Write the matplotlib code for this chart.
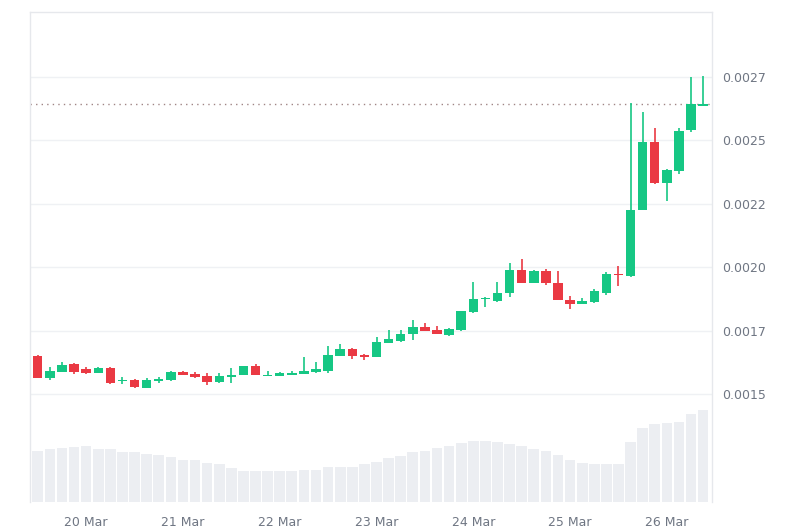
"""
Velas de 3 horas con volumen — 19 Mar a 26 Mar
Salida: out.png (799x532)
"""

import matplotlib
matplotlib.use("Agg")
import matplotlib.pyplot as plt
import numpy as np

# ─────────────────────────────────────────────────────────────────────────────
# Datos (velas de 3h desde 19 Mar 12:00)
# ─────────────────────────────────────────────────────────────────────────────

opens = [0.001650, 0.001564, 0.001588, 0.001618, 0.001599, 0.001583, 0.001603, 0.001551,
         0.001557, 0.001524, 0.001551, 0.001555, 0.001587, 0.001578, 0.001571, 0.001549,
         0.001568, 0.001574, 0.001610, 0.001571, 0.001572, 0.001576, 0.001578, 0.001587,
         0.001592, 0.001650, 0.001676, 0.001654, 0.001645, 0.001702, 0.001710, 0.001737,
         0.001765, 0.001754, 0.001733, 0.001752, 0.001823, 0.001873, 0.001868, 0.001897,
         0.001989, 0.001939, 0.001986, 0.001937, 0.001871, 0.001855, 0.001864, 0.001897,
         0.001973, 0.001965, 0.002226, 0.002494, 0.002331, 0.002379, 0.002540, 0.002637]
highs = [0.001652, 0.001608, 0.001626, 0.001622, 0.001606, 0.001605, 0.001605, 0.001568,
         0.001559, 0.001563, 0.001568, 0.001589, 0.001592, 0.001586, 0.001582, 0.001583,
         0.001601, 0.001612, 0.001618, 0.001591, 0.001585, 0.001592, 0.001647, 0.001627,
         0.001690, 0.001696, 0.001683, 0.001656, 0.001726, 0.001752, 0.001752, 0.001792,
         0.001779, 0.001768, 0.001760, 0.001829, 0.001943, 0.001884, 0.001940, 0.002015,
         0.002031, 0.001989, 0.001992, 0.001985, 0.001886, 0.001880, 0.001913, 0.001982,
         0.002005, 0.002649, 0.002613, 0.002550, 0.002387, 0.002548, 0.002749, 0.002755]
lows = [0.001562, 0.001555, 0.001587, 0.001580, 0.001579, 0.001581, 0.001541, 0.001538,
        0.001524, 0.001522, 0.001542, 0.001553, 0.001573, 0.001563, 0.001535, 0.001542,
        0.001542, 0.001573, 0.001573, 0.001570, 0.001571, 0.001575, 0.001577, 0.001582,
        0.001582, 0.001648, 0.001638, 0.001633, 0.001644, 0.001701, 0.001706, 0.001713,
        0.001748, 0.001735, 0.001729, 0.001750, 0.001821, 0.001844, 0.001864, 0.001881,
        0.001938, 0.001936, 0.001931, 0.001869, 0.001834, 0.001853, 0.001860, 0.001890,
        0.001926, 0.001963, 0.002224, 0.002330, 0.002262, 0.002367, 0.002535, 0.002637]
closes = [0.001563, 0.001591, 0.001614, 0.001586, 0.001583, 0.001603, 0.001542, 0.001555,
          0.001526, 0.001555, 0.001559, 0.001588, 0.001574, 0.001568, 0.001549, 0.001571,
          0.001575, 0.001610, 0.001574, 0.001576, 0.001582, 0.001583, 0.001592, 0.001597,
          0.001654, 0.001676, 0.001651, 0.001645, 0.001705, 0.001717, 0.001737, 0.001765,
          0.001750, 0.001737, 0.001758, 0.001827, 0.001873, 0.001879, 0.001899, 0.001989,
          0.001939, 0.001986, 0.001936, 0.001871, 0.001855, 0.001867, 0.001907, 0.001973,
          0.001968, 0.002226, 0.002494, 0.002331, 0.002383, 0.002538, 0.002645, 0.002645]

# volumen relativo por vela
volumes = [51, 53, 54, 55, 56, 53, 53, 50, 50, 48, 47, 45, 42, 42, 39, 38,
           34, 31, 31, 31, 31, 31, 32, 32, 35, 35, 35, 38, 40, 44, 46, 50,
           51, 54, 56, 59, 61, 61, 60, 58, 56, 53, 51, 47, 42, 39, 38, 38,
           38, 60, 74, 78, 79, 80, 88, 92]

day_labels = ["20 Mar", "21 Mar", "22 Mar", "23 Mar", "24 Mar", "25 Mar", "26 Mar"]
day_index = [4, 12, 20, 28, 36, 44, 52]   # vela de las 00:00 de cada día

price_ticks = [0.0015, 0.00175, 0.0020, 0.00225, 0.0025, 0.00275]
price_labels = ["0.0015", "0.0017", "0.0020", "0.0022", "0.0025", "0.0027"]

GREEN = "#16c784"
RED = "#ea3943"
GRAY_TXT = "#6f7683"
FRAME = "#e6e8ec"


def main():
    o = np.array(opens)
    h = np.array(highs)
    l = np.array(lows)
    c = np.array(closes)
    x = np.arange(len(o))
    up = c >= o
    colors = np.where(up, GREEN, RED)

    fig = plt.figure(figsize=(7.99, 5.32), dpi=100)
    ax = fig.add_axes([30 / 799, 1 - 502 / 532, 682 / 799, 490 / 532])

    # Volumen en eje gemelo, por detrás de las velas
    ax_vol = ax.twinx()
    ax_vol.bar(x, volumes, width=0.88, color="#eceef2", zorder=1)
    ax_vol.set_ylim(0, 490)
    ax_vol.set_yticks([])
    for s in ax_vol.spines.values():
        s.set_visible(False)
    ax.set_zorder(ax_vol.get_zorder() + 1)
    ax.patch.set_visible(False)

    # Velas
    ax.vlines(x, l, h, colors=colors, linewidth=1.2, zorder=3)
    body_lo = np.minimum(o, c)
    body_h = np.maximum(np.abs(c - o), 0.000005)
    ax.bar(x, body_h, bottom=body_lo, width=0.78, color=colors, zorder=4)

    # Línea del último precio
    ax.axhline(closes[-1], color="#a08585", linestyle=(0, (1, 3)),
               linewidth=1.0, zorder=2)

    ax.set_xlim(-0.64, 55.73)
    ax.set_ylim(0.0010742, 0.0030062)

    ax.yaxis.tick_right()
    ax.set_yticks(price_ticks)
    ax.set_yticklabels(price_labels)
    ax.set_xticks(day_index)
    ax.set_xticklabels(day_labels)
    ax.tick_params(axis="both", length=0, labelsize=9, labelcolor=GRAY_TXT)
    ax.tick_params(axis="y", pad=7)
    ax.tick_params(axis="x", pad=10)

    ax.grid(axis="y", color="#eff1f4", linewidth=1.0, zorder=0)
    for s in ax.spines.values():
        s.set_color(FRAME)
        s.set_linewidth(1.0)
    ax.spines["bottom"].set_visible(False)

    fig.savefig("out.png", dpi=100)
    plt.close(fig)


if __name__ == "__main__":
    main()
